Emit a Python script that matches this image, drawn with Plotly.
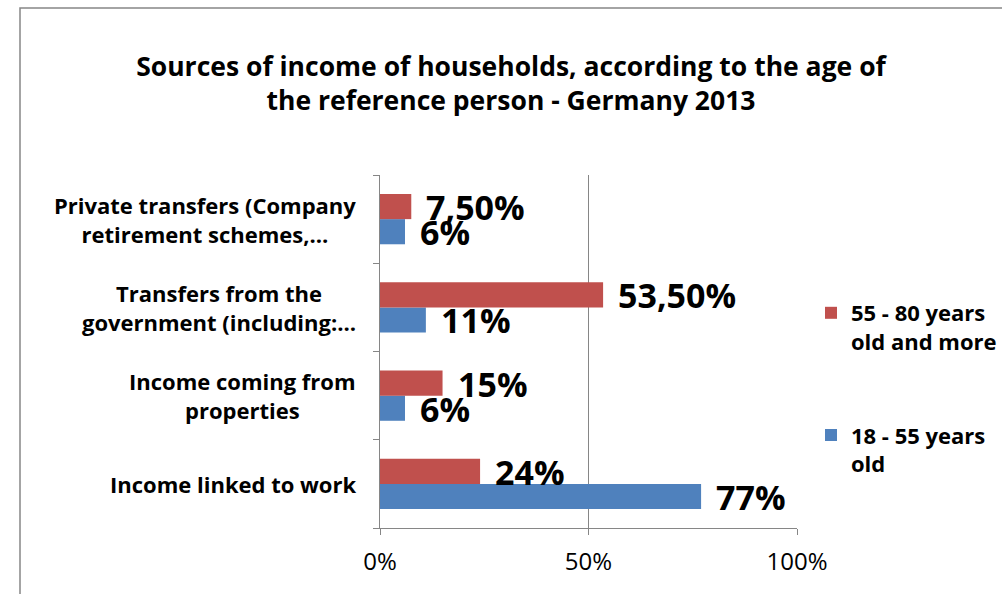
import plotly.graph_objects as go

# Income sources by age group of the household reference person (Germany, 2013)
categories = [
    "Income linked to work",
    "Income coming from<br>properties",
    "Transfers from the<br>government (including:…",
    "Private transfers (Company<br>retirement schemes,…",
]
young_name = "18 - 55 years<br>old"
old_name = "55 - 80 years<br>old and more"
young_values = [77, 6, 11, 6]
old_values = [24, 15, 53.5, 7.5]
young_labels = ["77%", "6%", "11%", "6%"]
old_labels = ["24%", "15%", "53,50%", "7,50%"]
x_ticks = [0, 50, 100]
x_tick_labels = ["0%", "50%", "100%"]

BLUE = "#4F81BD"
RED = "#C0504D"
GRID = "#868686"
FONT = "Open Sans"

W, H = 1002, 594
L, R, T, B = 380, 205, 175, 66
PW, PH = W - L - R, H - T - B

fig = go.Figure()
fig.add_trace(go.Bar(
    y=categories, x=young_values, orientation="h", name=young_name,
    marker=dict(color=BLUE, line=dict(width=0)), legendgroup="a", legendrank=2,
))
fig.add_trace(go.Bar(
    y=categories, x=old_values, orientation="h", name=old_name,
    marker=dict(color=RED, line=dict(width=0)), legendgroup="b", legendrank=1,
))

annotations = []
# value labels at the end of each bar
for cat, v, lab in zip(categories, young_values, young_labels):
    annotations.append(dict(
        x=v, y=cat, xref="x", yref="y", text=lab, showarrow=False,
        xanchor="left", yanchor="middle", xshift=13, yshift=-13,
        font=dict(family=FONT, size=34, color="black", weight="bold"),
    ))
for cat, v, lab in zip(categories, old_values, old_labels):
    annotations.append(dict(
        x=v, y=cat, xref="x", yref="y", text=lab, showarrow=False,
        xanchor="left", yanchor="middle", xshift=13, yshift=12,
        font=dict(family=FONT, size=34, color="black", weight="bold"),
    ))
# category labels, centred block to the left of the axis
for cat in categories:
    annotations.append(dict(
        x=0, y=cat, xref="paper", yref="y", text=cat, showarrow=False,
        xanchor="right", yanchor="middle", align="center", xshift=-22,
        font=dict(family=FONT, size=22, color="black", weight="bold"),
    ))

# chart frame
fx0 = (20 - L) / PW
fx1 = (1010 - L) / PW
fy1 = (H - B - 8) / PH
fy0 = (H - B - 605) / PH

fig.update_layout(
    width=W, height=H,
    margin=dict(l=L, r=R, t=T, b=B, autoexpand=False),
    paper_bgcolor="white", plot_bgcolor="white",
    barmode="group", bargap=0.43, bargroupgap=0,
    title=dict(
        text="Sources of income of households, according to the age of<br>the reference person - Germany 2013",
        x=511 / W, xref="container", xanchor="center",
        y=1 - 76 / H, yref="container", yanchor="middle",
        font=dict(family=FONT, size=26.5, color="black", weight="bold"),
    ),
    xaxis=dict(
        range=[0, 100], tickvals=x_ticks, ticktext=x_tick_labels,
        showgrid=True, gridcolor=GRID, gridwidth=1,
        showline=True, linecolor=GRID, linewidth=1,
        ticks="outside", ticklen=6, tickcolor=GRID,
        zeroline=False, ticklabelstandoff=6,
        tickfont=dict(family=FONT, size=24, color="black"),
    ),
    yaxis=dict(
        showticklabels=False, tickson="boundaries",
        ticks="outside", ticklen=6, tickcolor=GRID,
        showline=True, linecolor=GRID, linewidth=1,
        showgrid=False,
    ),
    legend=dict(
        x=(811 - L) / PW, xanchor="left",
        y=(H - B - 292) / PH, yanchor="top",
        traceorder="grouped", tracegroupgap=62, valign="top",
        font=dict(family=FONT, size=22, color="black", weight="bold"),
        itemwidth=30,
    ),
    annotations=annotations,
    shapes=[dict(
        type="rect", xref="paper", yref="paper",
        x0=fx0, x1=fx1, y0=fy0, y1=fy1,
        line=dict(color="#868686", width=1.5), layer="below",
    )],
)

fig.write_html("out.html")
